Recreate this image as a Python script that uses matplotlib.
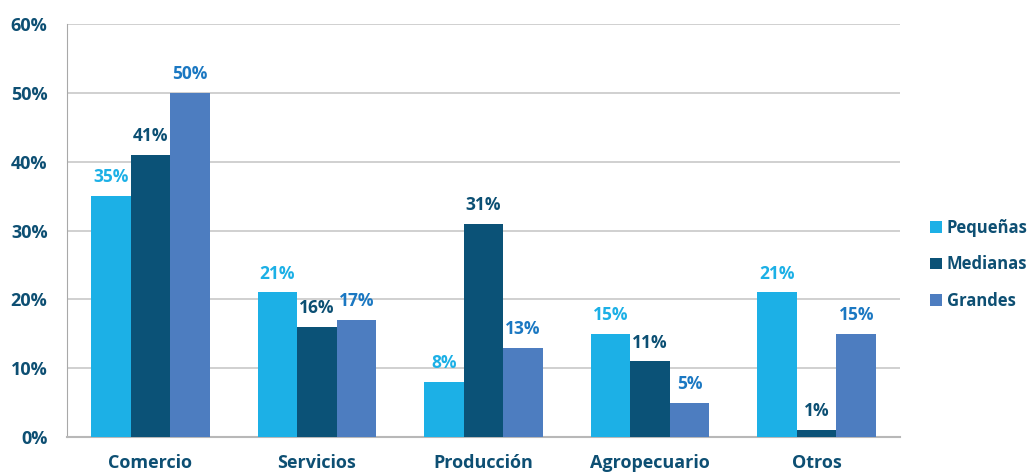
import matplotlib
matplotlib.use("Agg")
import matplotlib.pyplot as plt
import numpy as np
from matplotlib.patches import Patch

categories = ["Comercio", "Servicios", "Producción", "Agropecuario", "Otros"]
series_names = ["Pequeñas", "Medianas", "Grandes"]
pequenas = [35, 21, 8, 15, 21]
medianas = [41, 16, 31, 11, 1]
grandes = [50, 17, 13, 5, 15]
y_ticks = [0, 10, 20, 30, 40, 50, 60]

bar_colors = ["#1cb0e6", "#0b5277", "#4d7dc0"]
label_colors = ["#1cb0e6", "#0b4f73", "#1b78c2"]
text_color = "#0d4f73"
grid_color = "#c8c8c8"

plt.rcParams["font.family"] = ["Open Sans", "DejaVu Sans"]
weight = "bold"

fig = plt.figure(figsize=(10.35, 4.72), dpi=100)
ax = fig.add_axes([0.0647, 0.0742, 0.8049, 0.8748])

x = np.arange(len(categories))
width = 0.237
for i, vals in enumerate([pequenas, medianas, grandes]):
    pos = x + (i - 1) * width
    ax.bar(pos, vals, width=width, color=bar_colors[i], zorder=3)
    for p, v in zip(pos, vals):
        ax.text(p, v + 1.4, f"{v}%", ha="center", va="bottom",
                fontsize=12.5, fontweight=weight, color=label_colors[i], zorder=4)

ax.set_xlim(-0.5, len(categories) - 0.5)
ax.set_ylim(0, 60)
ax.set_yticks(y_ticks)
ax.set_yticklabels([f"{t}%" for t in y_ticks])
ax.set_xticks(x)
ax.set_xticklabels(categories)
ax.tick_params(axis="both", length=0, labelsize=13, labelcolor=text_color)
for lbl in ax.get_xticklabels() + ax.get_yticklabels():
    lbl.set_fontweight(weight)
ax.tick_params(axis="y", pad=14)
ax.tick_params(axis="x", pad=12)

ax.yaxis.grid(True, color=grid_color, linewidth=1.2, zorder=0)
ax.set_axisbelow(True)
for side in ["top", "right"]:
    ax.spines[side].set_visible(False)
ax.spines["left"].set_color("#a8a8a8")
ax.spines["bottom"].set_color("#b8b8b8")
ax.spines["bottom"].set_linewidth(1.5)

handles = [Patch(facecolor=c) for c in bar_colors]
leg = fig.legend(handles, series_names, loc="center left",
                 bbox_to_anchor=(0.884, 0.44), frameon=False,
                 handlelength=0.7, handleheight=0.7, handletextpad=0.3,
                 labelspacing=1.1, fontsize=12)
for t in leg.get_texts():
    t.set_color(text_color)
    t.set_fontweight(weight)

fig.savefig("out.png", dpi=100)
